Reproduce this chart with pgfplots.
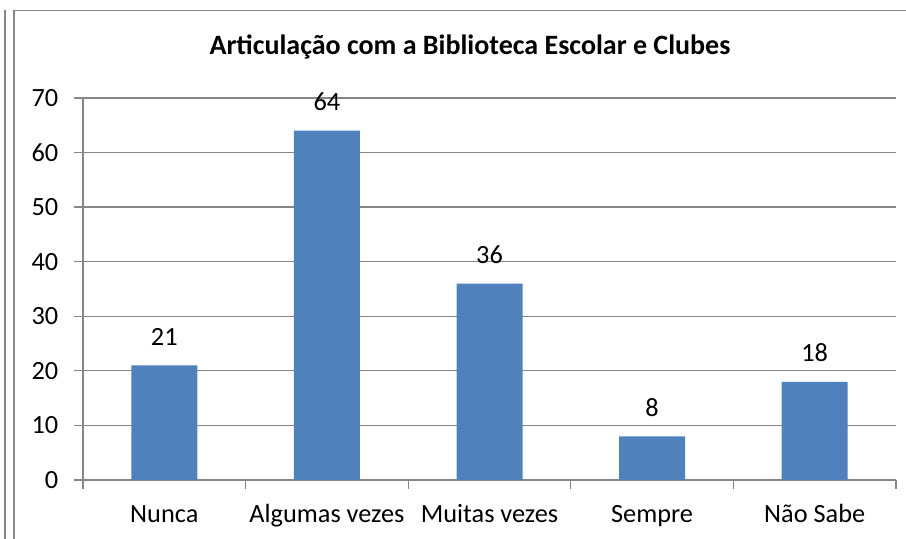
\documentclass[border=0pt]{standalone}
\usepackage{pgfplots}
\pgfplotsset{compat=1.18}
\usepackage{fontspec}
\setmainfont{Carlito}
\definecolor{barblue}{HTML}{4F81BD}
\definecolor{gridgray}{HTML}{868686}
\newcommand{\lbl}{\fontsize{26.3bp}{30bp}\selectfont}
\begin{document}
\begin{tikzpicture}[x=1bp,y=1bp]
\useasboundingbox (0,0) rectangle (906,539);
\draw[gridgray, line width=1.3bp] (5,0) -- (5,529);
\draw[gridgray, line width=1.3bp] (14,0) -- (14,528.5) -- (906,528.5);
\node[anchor=base, font=\fontsize{28bp}{32bp}\selectfont\bfseries, inner sep=0pt] at (470,484) {Articulação com a Biblioteca Escolar e Clubes};
\begin{axis}[
  at={(83bp,59bp)}, anchor=south west,
  width=813bp, height=382bp, scale only axis,
  xmin=-0.5, xmax=4.5, ymin=0, ymax=70,
  ybar, bar width=66bp,
  ytick={0,10,...,70},
  xtick={-0.5,0.5,1.5,2.5,3.5,4.5},
  xticklabels={},
  extra x ticks={0,1,2,3,4},
  extra x tick labels={Nunca, Algumas vezes, Muitas vezes, Sempre, Não Sabe},
  extra x tick style={major tick length=0pt, grid=none,
    xticklabel style={font=\lbl, anchor=base, inner sep=0pt, yshift=-43bp}},
  axis lines*=left,
  ymajorgrids,
  grid style={gridgray, line width=1.3bp},
  axis line style={gridgray, line width=1.3bp},
  every tick/.style={gridgray, line width=1.3bp},
  major tick length=9bp, tick align=outside,
  /pgf/number format/assume math mode=true,
  yticklabel style={font=\lbl, anchor=east, inner sep=0pt, xshift=-15.5bp},
  nodes near coords,
  every node near coord/.append style={font=\lbl, anchor=base, inner sep=0pt, yshift=20bp, black},
  clip=false,
]
\addplot[fill=barblue, draw=none] coordinates {(0,21) (1,64) (2,36) (3,8) (4,18)};
\end{axis}
\end{tikzpicture}
\end{document}
